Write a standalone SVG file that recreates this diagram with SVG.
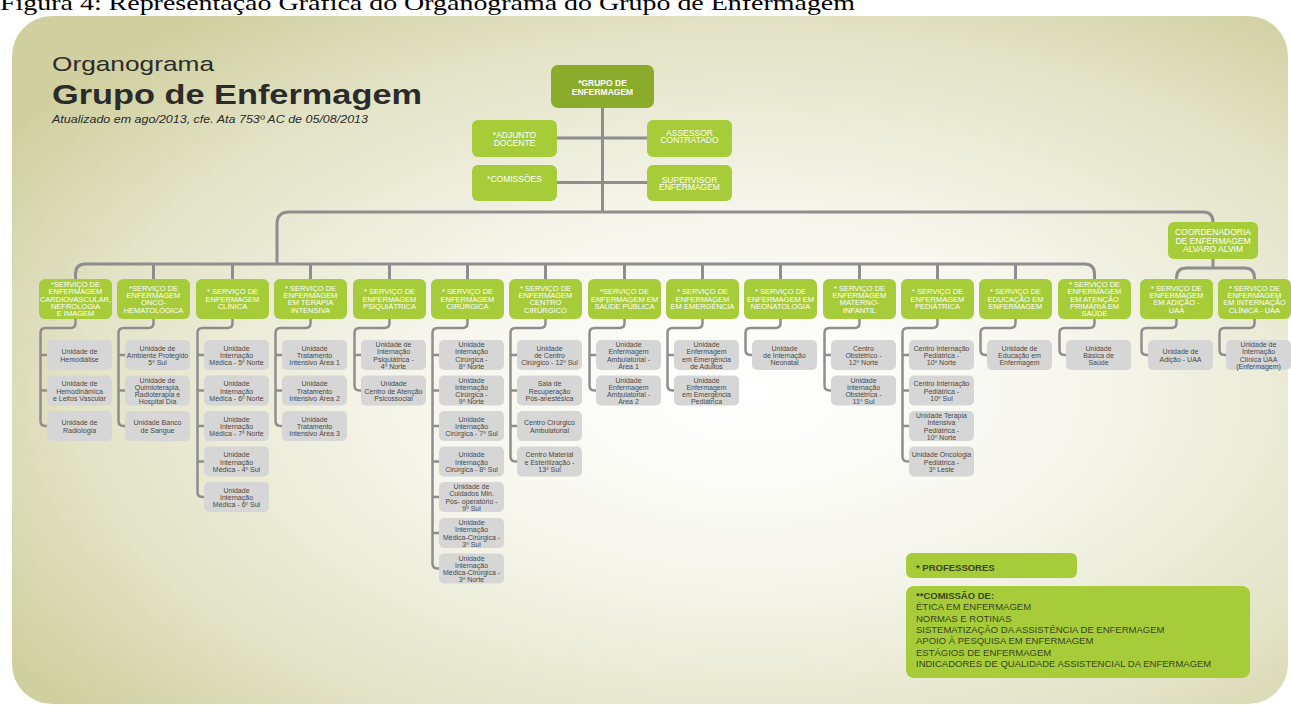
<svg xmlns="http://www.w3.org/2000/svg" width="1291" height="705" viewBox="0 0 1291 705">
<defs>
<radialGradient id="bg" cx="0.58" cy="0.55" r="0.7">
<stop offset="0" stop-color="#ffffff"/>
<stop offset="0.35" stop-color="#f7f7ef"/>
<stop offset="0.75" stop-color="#e3e3c7"/>
<stop offset="1" stop-color="#cfcf9f"/>
</radialGradient>
<style>
.hd{fill:#a6cc3a}
.top{fill:#8aab2b}
.ch{fill:#d6d6d6}
.tx{font-family:'Liberation Sans',Arial,sans-serif;fill:#ffffff;font-size:7.5px;text-anchor:middle}
.tb{font-family:'Liberation Sans',Arial,sans-serif;fill:#ffffff;font-size:8.5px;text-anchor:middle}
.ct{font-family:'Liberation Sans',Arial,sans-serif;fill:#4a4a4a;font-size:7px;text-anchor:middle}
.lg{font-family:'Liberation Sans',Arial,sans-serif;fill:#3a4520;font-size:9.5px}
.ln{stroke:#8e8e8e;stroke-width:3;fill:none}
.ln2{stroke:#8e8e8e;stroke-width:2.5;fill:none}
</style>
</defs>
<rect width="1291" height="705" fill="#ffffff"/>
<rect x="12" y="16" width="1276" height="688" rx="40" fill="url(#bg)"/>
<text x="0" y="10" font-family="'Liberation Serif',serif" font-size="22" fill="#000" textLength="855" lengthAdjust="spacingAndGlyphs">Figura 4: Representação Gráfica do Organograma do Grupo de Enfermagem</text>

<g id="title" font-family="'Liberation Sans',Arial,sans-serif" fill="#2b2b2b">
<text x="52" y="71" font-size="21" textLength="162" lengthAdjust="spacingAndGlyphs">Organograma</text>
<text x="52" y="104" font-size="28" font-weight="bold" textLength="370" lengthAdjust="spacingAndGlyphs">Grupo de Enfermagem</text>
<text x="52" y="123" font-size="10.5" font-style="italic" textLength="316" lengthAdjust="spacingAndGlyphs">Atualizado em ago/2013, cfe.  Ata 753º AC de 05/08/2013</text>
</g>

<g id="connectors">
<path class="ln" d="M602.5 108V212M557 138H647M557 182.5H647"/>
<path class="ln" d="M277 264V224Q277 212 289 212H1203Q1213 212 1213 222"/>
<path class="ln" d="M75.5 279V274Q75.5 264 85.5 264H1084.5Q1094.5 264 1094.5 274V279"/>
<path class="ln" d="M153.5 264V279M232.5 264V279M310.5 264V279M389.5 264V279M467.5 264V279M545.5 264V279M624.5 264V279M702.5 264V279M780.5 264V279M859.5 264V279M937.5 264V279M1015.5 264V279"/>
<path class="ln" d="M1213 259V268M1176.5 279V278Q1176.5 268 1186.5 268H1244.5Q1254.5 268 1254.5 278V279"/>
<path class="ln2" d="M75.5 319V323Q75.5 328 70.5 328H45.5Q40.5 328 40.5 333V421Q40.5 426 45.5 426H47M40.5 355H47M40.5 390.5H47"/>
<path class="ln2" d="M153.5 319V323Q153.5 328 148.5 328H123.5Q118.5 328 118.5 333V421Q118.5 426 123.5 426H125M118.5 355H125M118.5 390.5H125"/>
<path class="ln2" d="M232.5 319V323Q232.5 328 227.5 328H202.5Q197.5 328 197.5 333V492Q197.5 497 202.5 497H204M197.5 355H204M197.5 390.5H204M197.5 426H204M197.5 461.5H204"/>
<path class="ln2" d="M310.5 319V323Q310.5 328 305.5 328H280.5Q275.5 328 275.5 333V421Q275.5 426 280.5 426H282M275.5 355H282M275.5 390.5H282"/>
<path class="ln2" d="M389.5 319V323Q389.5 328 384.5 328H359.5Q354.5 328 354.5 333V385.5Q354.5 390.5 359.5 390.5H361M354.5 355H361"/>
<path class="ln2" d="M467.5 319V323Q467.5 328 462.5 328H437.5Q432.5 328 432.5 333V563.5Q432.5 568.5 437.5 568.5H439M432.5 355H439M432.5 390.5H439M432.5 426H439M432.5 461.5H439M432.5 497H439M432.5 533H439"/>
<path class="ln2" d="M545.5 319V323Q545.5 328 540.5 328H515.5Q510.5 328 510.5 333V456.5Q510.5 461.5 515.5 461.5H517M510.5 355H517M510.5 390.5H517M510.5 426H517"/>
<path class="ln2" d="M624.5 319V323Q624.5 328 619.5 328H594.5Q589.5 328 589.5 333V385.5Q589.5 390.5 594.5 390.5H596M589.5 355H596"/>
<path class="ln2" d="M702.5 319V323Q702.5 328 697.5 328H672.5Q667.5 328 667.5 333V385.5Q667.5 390.5 672.5 390.5H674M667.5 355H674"/>
<path class="ln2" d="M780.5 319V323Q780.5 328 775.5 328H750.5Q745.5 328 745.5 333V350Q745.5 355 750.5 355H752"/>
<path class="ln2" d="M859.5 319V323Q859.5 328 854.5 328H829.5Q824.5 328 824.5 333V385.5Q824.5 390.5 829.5 390.5H831M824.5 355H831"/>
<path class="ln2" d="M937.5 319V323Q937.5 328 932.5 328H907.5Q902.5 328 902.5 333V456.5Q902.5 461.5 907.5 461.5H909M902.5 355H909M902.5 390.5H909M902.5 426H909"/>
<path class="ln2" d="M1015.5 319V323Q1015.5 328 1010.5 328H985.5Q980.5 328 980.5 333V350Q980.5 355 985.5 355H987"/>
<path class="ln2" d="M1094.5 319V323Q1094.5 328 1089.5 328H1064.5Q1059.5 328 1059.5 333V350Q1059.5 355 1064.5 355H1066"/>
<path class="ln2" d="M1176.5 319V323Q1176.5 328 1171.5 328H1146.5Q1141.5 328 1141.5 333V350Q1141.5 355 1146.5 355H1148"/>
<path class="ln2" d="M1254.5 319V323Q1254.5 328 1249.5 328H1224.5Q1219.5 328 1219.5 333V350Q1219.5 355 1224.5 355H1226"/>
</g>

<g id="grupo"><rect class="top" x="551" y="65" width="103" height="43" rx="7"/><text class="tb" font-weight="bold" font-size="9.5" x="602.5" y="86"><tspan x="602.5">*GRUPO DE</tspan><tspan x="602.5" dy="8.5">ENFERMAGEM</tspan></text></g>
<g id="adjunto"><rect class="hd" x="472" y="120" width="85" height="37" rx="6"/><text class="tb" x="514.5" y="138"><tspan x="514.5">*ADJUNTO</tspan><tspan x="514.5" dy="7.5">DOCENTE</tspan></text></g>
<g id="assessor"><rect class="hd" x="647" y="120" width="85" height="37" rx="6"/><text class="tb" x="689.5" y="135.5"><tspan x="689.5">ASSESSOR</tspan><tspan x="689.5" dy="7.5">CONTRATADO</tspan></text></g>
<g id="comissoes"><rect class="hd" x="472" y="165" width="85" height="36" rx="6"/><text class="tb" x="514.5" y="182">*COMISSÕES</text></g>
<g id="supervisor"><rect class="hd" x="647" y="165" width="85" height="36" rx="6"/><text class="tb" x="689.5" y="182.5"><tspan x="689.5">SUPERVISOR</tspan><tspan x="689.5" dy="7.5">ENFERMAGEM</tspan></text></g>
<g id="coordenadoria"><rect class="hd" x="1168" y="222" width="90" height="37" rx="6"/><text class="tb" font-size="9" x="1213" y="235"><tspan x="1213">COORDENADORIA</tspan><tspan x="1213" dy="8.5">DE ENFERMAGEM</tspan><tspan x="1213" dy="8.5">ÁLVARO ALVIM</tspan></text></g>

<g id="h1"><rect class="hd" x="39" y="279" width="73" height="40" rx="6"/><text class="tx" y="287.1"><tspan x="75.5">*SERVIÇO DE</tspan><tspan x="75.5" dy="7.3">ENFERMAGEM</tspan><tspan x="75.5" dy="7.3">CARDIOVASCULAR,</tspan><tspan x="75.5" dy="7.3">NEFROLOGIA</tspan><tspan x="75.5" dy="7.3">E IMAGEM</tspan></text></g>
<g id="h2"><rect class="hd" x="117" y="279" width="73" height="40" rx="6"/><text class="tx" y="290.75"><tspan x="153.5">*SERVIÇO DE</tspan><tspan x="153.5" dy="7.3">ENFERMAGEM</tspan><tspan x="153.5" dy="7.3">ONCO-</tspan><tspan x="153.5" dy="7.3">HEMATOLÓGICA</tspan></text></g>
<g id="h3"><rect class="hd" x="196" y="279" width="73" height="40" rx="6"/><text class="tx" y="294.4"><tspan x="232.5">* SERVIÇO DE</tspan><tspan x="232.5" dy="7.3">ENFERMAGEM</tspan><tspan x="232.5" dy="7.3">CLÍNICA</tspan></text></g>
<g id="h4"><rect class="hd" x="274" y="279" width="73" height="40" rx="6"/><text class="tx" y="290.75"><tspan x="310.5">* SERVIÇO DE</tspan><tspan x="310.5" dy="7.3">ENFERMAGEM</tspan><tspan x="310.5" dy="7.3">EM TERAPIA</tspan><tspan x="310.5" dy="7.3">INTENSIVA</tspan></text></g>
<g id="h5"><rect class="hd" x="353" y="279" width="73" height="40" rx="6"/><text class="tx" y="294.4"><tspan x="389.5">* SERVIÇO DE</tspan><tspan x="389.5" dy="7.3">ENFERMAGEM</tspan><tspan x="389.5" dy="7.3">PSIQUIÁTRICA</tspan></text></g>
<g id="h6"><rect class="hd" x="431" y="279" width="73" height="40" rx="6"/><text class="tx" y="294.4"><tspan x="467.5">* SERVIÇO DE</tspan><tspan x="467.5" dy="7.3">ENFERMAGEM</tspan><tspan x="467.5" dy="7.3">CIRÚRGICA</tspan></text></g>
<g id="h7"><rect class="hd" x="509" y="279" width="73" height="40" rx="6"/><text class="tx" y="290.75"><tspan x="545.5">* SERVIÇO DE</tspan><tspan x="545.5" dy="7.3">ENFERMAGEM</tspan><tspan x="545.5" dy="7.3">CENTRO</tspan><tspan x="545.5" dy="7.3">CIRÚRGICO</tspan></text></g>
<g id="h8"><rect class="hd" x="588" y="279" width="73" height="40" rx="6"/><text class="tx" y="294.4"><tspan x="624.5">*SERVIÇO DE</tspan><tspan x="624.5" dy="7.3">ENFERMAGEM EM</tspan><tspan x="624.5" dy="7.3">SAÚDE PÚBLICA</tspan></text></g>
<g id="h9"><rect class="hd" x="666" y="279" width="73" height="40" rx="6"/><text class="tx" y="294.4"><tspan x="702.5">* SERVIÇO DE</tspan><tspan x="702.5" dy="7.3">ENFERMAGEM</tspan><tspan x="702.5" dy="7.3">EM EMERGÊNCIA</tspan></text></g>
<g id="h10"><rect class="hd" x="744" y="279" width="73" height="40" rx="6"/><text class="tx" y="294.4"><tspan x="780.5">* SERVIÇO DE</tspan><tspan x="780.5" dy="7.3">ENFERMAGEM EM</tspan><tspan x="780.5" dy="7.3">NEONATOLOGIA</tspan></text></g>
<g id="h11"><rect class="hd" x="823" y="279" width="73" height="40" rx="6"/><text class="tx" y="290.75"><tspan x="859.5">* SERVIÇO DE</tspan><tspan x="859.5" dy="7.3">ENFERMAGEM</tspan><tspan x="859.5" dy="7.3">MATERNO-</tspan><tspan x="859.5" dy="7.3">INFANTIL</tspan></text></g>
<g id="h12"><rect class="hd" x="901" y="279" width="73" height="40" rx="6"/><text class="tx" y="294.4"><tspan x="937.5">* SERVIÇO DE</tspan><tspan x="937.5" dy="7.3">ENFERMAGEM</tspan><tspan x="937.5" dy="7.3">PEDIÁTRICA</tspan></text></g>
<g id="h13"><rect class="hd" x="979" y="279" width="73" height="40" rx="6"/><text class="tx" y="294.4"><tspan x="1015.5">* SERVIÇO DE</tspan><tspan x="1015.5" dy="7.3">EDUCAÇÃO EM</tspan><tspan x="1015.5" dy="7.3">ENFERMAGEM</tspan></text></g>
<g id="h14"><rect class="hd" x="1058" y="279" width="73" height="40" rx="6"/><text class="tx" y="287.1"><tspan x="1094.5">* SERVIÇO DE</tspan><tspan x="1094.5" dy="7.3">ENFERMAGEM</tspan><tspan x="1094.5" dy="7.3">EM ATENÇÃO</tspan><tspan x="1094.5" dy="7.3">PRIMÁRIA EM</tspan><tspan x="1094.5" dy="7.3">SAÚDE</tspan></text></g>
<g id="h15"><rect class="hd" x="1140" y="279" width="73" height="40" rx="6"/><text class="tx" y="290.75"><tspan x="1176.5">* SERVIÇO DE</tspan><tspan x="1176.5" dy="7.3">ENFERMAGEM</tspan><tspan x="1176.5" dy="7.3">EM ADIÇÃO -</tspan><tspan x="1176.5" dy="7.3">UAA</tspan></text></g>
<g id="h16"><rect class="hd" x="1218" y="279" width="73" height="40" rx="6"/><text class="tx" y="290.75"><tspan x="1254.5">* SERVIÇO DE</tspan><tspan x="1254.5" dy="7.3">ENFERMAGEM</tspan><tspan x="1254.5" dy="7.3">EM INTERNAÇÃO</tspan><tspan x="1254.5" dy="7.3">CLÍNICA - UAA</tspan></text></g>

<g id="c1-1"><rect class="ch" x="47" y="340" width="65" height="30" rx="5"/><text class="ct" y="354.4"><tspan x="79.5">Unidade de</tspan><tspan x="79.5" dy="7.2">Hemodiálise</tspan></text></g>
<g id="c1-2"><rect class="ch" x="47" y="375.5" width="65" height="30" rx="5"/><text class="ct" y="386.3"><tspan x="79.5">Unidade de</tspan><tspan x="79.5" dy="7.2">Hemodinâmica</tspan><tspan x="79.5" dy="7.2">e Leitos Vascular</tspan></text></g>
<g id="c1-3"><rect class="ch" x="47" y="411" width="65" height="30" rx="5"/><text class="ct" y="425.4"><tspan x="79.5">Unidade de</tspan><tspan x="79.5" dy="7.2">Radiologia</tspan></text></g>

<g id="c2-1"><rect class="ch" x="125" y="340" width="65" height="30" rx="5"/><text class="ct" y="350.8"><tspan x="157.5">Unidade de</tspan><tspan x="157.5" dy="7.2">Ambiente Protegido</tspan><tspan x="157.5" dy="7.2">5º Sul</tspan></text></g>
<g id="c2-2"><rect class="ch" x="125" y="375.5" width="65" height="30" rx="5"/><text class="ct" y="382.7"><tspan x="157.5">Unidade de</tspan><tspan x="157.5" dy="7.2">Quimioterapia,</tspan><tspan x="157.5" dy="7.2">Radioterapia e</tspan><tspan x="157.5" dy="7.2">Hospital Dia</tspan></text></g>
<g id="c2-3"><rect class="ch" x="125" y="411" width="65" height="30" rx="5"/><text class="ct" y="425.4"><tspan x="157.5">Unidade Banco</tspan><tspan x="157.5" dy="7.2">de Sangue</tspan></text></g>

<g id="c3-1"><rect class="ch" x="204" y="340" width="65" height="30" rx="5"/><text class="ct" y="350.8"><tspan x="236.5">Unidade</tspan><tspan x="236.5" dy="7.2">Internação</tspan><tspan x="236.5" dy="7.2">Médica - 5º Norte</tspan></text></g>
<g id="c3-2"><rect class="ch" x="204" y="375.5" width="65" height="30" rx="5"/><text class="ct" y="386.3"><tspan x="236.5">Unidade</tspan><tspan x="236.5" dy="7.2">Internação</tspan><tspan x="236.5" dy="7.2">Médica - 6º Norte</tspan></text></g>
<g id="c3-3"><rect class="ch" x="204" y="411" width="65" height="30" rx="5"/><text class="ct" y="421.8"><tspan x="236.5">Unidade</tspan><tspan x="236.5" dy="7.2">Internação</tspan><tspan x="236.5" dy="7.2">Médica - 7º Norte</tspan></text></g>
<g id="c3-4"><rect class="ch" x="204" y="446.5" width="65" height="30" rx="5"/><text class="ct" y="457.3"><tspan x="236.5">Unidade</tspan><tspan x="236.5" dy="7.2">Internação</tspan><tspan x="236.5" dy="7.2">Médica - 4º Sul</tspan></text></g>
<g id="c3-5"><rect class="ch" x="204" y="482" width="65" height="30" rx="5"/><text class="ct" y="492.8"><tspan x="236.5">Unidade</tspan><tspan x="236.5" dy="7.2">Internação</tspan><tspan x="236.5" dy="7.2">Médica - 6º Sul</tspan></text></g>

<g id="c4-1"><rect class="ch" x="282" y="340" width="65" height="30" rx="5"/><text class="ct" y="350.8"><tspan x="314.5">Unidade</tspan><tspan x="314.5" dy="7.2">Tratamento</tspan><tspan x="314.5" dy="7.2">Intensivo Área 1</tspan></text></g>
<g id="c4-2"><rect class="ch" x="282" y="375.5" width="65" height="30" rx="5"/><text class="ct" y="386.3"><tspan x="314.5">Unidade</tspan><tspan x="314.5" dy="7.2">Tratamento</tspan><tspan x="314.5" dy="7.2">Intensivo Área 2</tspan></text></g>
<g id="c4-3"><rect class="ch" x="282" y="411" width="65" height="30" rx="5"/><text class="ct" y="421.8"><tspan x="314.5">Unidade</tspan><tspan x="314.5" dy="7.2">Tratamento</tspan><tspan x="314.5" dy="7.2">Intensivo Área 3</tspan></text></g>

<g id="c5-1"><rect class="ch" x="361" y="340" width="65" height="30" rx="5"/><text class="ct" y="347.2"><tspan x="393.5">Unidade de</tspan><tspan x="393.5" dy="7.2">Internação</tspan><tspan x="393.5" dy="7.2">Psiquiátrica -</tspan><tspan x="393.5" dy="7.2">4º Norte</tspan></text></g>
<g id="c5-2"><rect class="ch" x="361" y="375.5" width="65" height="30" rx="5"/><text class="ct" y="386.3"><tspan x="393.5">Unidade</tspan><tspan x="393.5" dy="7.2">Centro de Atenção</tspan><tspan x="393.5" dy="7.2">Psicossocial</tspan></text></g>

<g id="c6-1"><rect class="ch" x="439" y="340" width="65" height="30" rx="5"/><text class="ct" y="347.2"><tspan x="471.5">Unidade</tspan><tspan x="471.5" dy="7.2">Internação</tspan><tspan x="471.5" dy="7.2">Cirúrgica -</tspan><tspan x="471.5" dy="7.2">8º Norte</tspan></text></g>
<g id="c6-2"><rect class="ch" x="439" y="375.5" width="65" height="30" rx="5"/><text class="ct" y="382.7"><tspan x="471.5">Unidade</tspan><tspan x="471.5" dy="7.2">Internação</tspan><tspan x="471.5" dy="7.2">Cirúrgica -</tspan><tspan x="471.5" dy="7.2">9º Norte</tspan></text></g>
<g id="c6-3"><rect class="ch" x="439" y="411" width="65" height="30" rx="5"/><text class="ct" y="421.8"><tspan x="471.5">Unidade</tspan><tspan x="471.5" dy="7.2">Internação</tspan><tspan x="471.5" dy="7.2">Cirúrgica - 7º Sul</tspan></text></g>
<g id="c6-4"><rect class="ch" x="439" y="446.5" width="65" height="30" rx="5"/><text class="ct" y="457.3"><tspan x="471.5">Unidade</tspan><tspan x="471.5" dy="7.2">Internação</tspan><tspan x="471.5" dy="7.2">Cirúrgica - 8º Sul</tspan></text></g>
<g id="c6-5"><rect class="ch" x="439" y="482" width="65" height="30" rx="5"/><text class="ct" y="489.2"><tspan x="471.5">Unidade de</tspan><tspan x="471.5" dy="7.2">Cuidados Min.</tspan><tspan x="471.5" dy="7.2">Pós- operatório -</tspan><tspan x="471.5" dy="7.2">9º Sul</tspan></text></g>
<g id="c6-6"><rect class="ch" x="439" y="518" width="65" height="30" rx="5"/><text class="ct" y="525.2"><tspan x="471.5">Unidade</tspan><tspan x="471.5" dy="7.2">Internação</tspan><tspan x="471.5" dy="7.2">Médica-Cirúrgica -</tspan><tspan x="471.5" dy="7.2">3º Sul</tspan></text></g>
<g id="c6-7"><rect class="ch" x="439" y="553.5" width="65" height="30" rx="5"/><text class="ct" y="560.7"><tspan x="471.5">Unidade</tspan><tspan x="471.5" dy="7.2">Internação</tspan><tspan x="471.5" dy="7.2">Médica-Cirúrgica -</tspan><tspan x="471.5" dy="7.2">3º Norte</tspan></text></g>

<g id="c7-1"><rect class="ch" x="517" y="340" width="65" height="30" rx="5"/><text class="ct" y="350.8"><tspan x="549.5">Unidade</tspan><tspan x="549.5" dy="7.2">de Centro</tspan><tspan x="549.5" dy="7.2">Cirúrgico - 12º Sul</tspan></text></g>
<g id="c7-2"><rect class="ch" x="517" y="375.5" width="65" height="30" rx="5"/><text class="ct" y="386.3"><tspan x="549.5">Sala de</tspan><tspan x="549.5" dy="7.2">Recuperação</tspan><tspan x="549.5" dy="7.2">Pós-anestésica</tspan></text></g>
<g id="c7-3"><rect class="ch" x="517" y="411" width="65" height="30" rx="5"/><text class="ct" y="425.4"><tspan x="549.5">Centro Cirúrgico</tspan><tspan x="549.5" dy="7.2">Ambulatorial</tspan></text></g>
<g id="c7-4"><rect class="ch" x="517" y="446.5" width="65" height="30" rx="5"/><text class="ct" y="457.3"><tspan x="549.5">Centro Material</tspan><tspan x="549.5" dy="7.2">e Esterilização -</tspan><tspan x="549.5" dy="7.2">13º Sul</tspan></text></g>

<g id="c8-1"><rect class="ch" x="596" y="340" width="65" height="30" rx="5"/><text class="ct" y="347.2"><tspan x="628.5">Unidade</tspan><tspan x="628.5" dy="7.2">Enfermagem</tspan><tspan x="628.5" dy="7.2">Ambulatorial -</tspan><tspan x="628.5" dy="7.2">Área 1</tspan></text></g>
<g id="c8-2"><rect class="ch" x="596" y="375.5" width="65" height="30" rx="5"/><text class="ct" y="382.7"><tspan x="628.5">Unidade</tspan><tspan x="628.5" dy="7.2">Enfermagem</tspan><tspan x="628.5" dy="7.2">Ambulatorial -</tspan><tspan x="628.5" dy="7.2">Área 2</tspan></text></g>

<g id="c9-1"><rect class="ch" x="674" y="340" width="65" height="30" rx="5"/><text class="ct" y="347.2"><tspan x="706.5">Unidade</tspan><tspan x="706.5" dy="7.2">Enfermagem</tspan><tspan x="706.5" dy="7.2">em Emergência</tspan><tspan x="706.5" dy="7.2">de Adultos</tspan></text></g>
<g id="c9-2"><rect class="ch" x="674" y="375.5" width="65" height="30" rx="5"/><text class="ct" y="382.7"><tspan x="706.5">Unidade</tspan><tspan x="706.5" dy="7.2">Enfermagem</tspan><tspan x="706.5" dy="7.2">em Emergência</tspan><tspan x="706.5" dy="7.2">Pediátrica</tspan></text></g>

<g id="c10-1"><rect class="ch" x="752" y="340" width="65" height="30" rx="5"/><text class="ct" y="350.8"><tspan x="784.5">Unidade</tspan><tspan x="784.5" dy="7.2">de Internação</tspan><tspan x="784.5" dy="7.2">Neonatal</tspan></text></g>

<g id="c11-1"><rect class="ch" x="831" y="340" width="65" height="30" rx="5"/><text class="ct" y="350.8"><tspan x="863.5">Centro</tspan><tspan x="863.5" dy="7.2">Obstétrico -</tspan><tspan x="863.5" dy="7.2">12º Norte</tspan></text></g>
<g id="c11-2"><rect class="ch" x="831" y="375.5" width="65" height="30" rx="5"/><text class="ct" y="382.7"><tspan x="863.5">Unidade</tspan><tspan x="863.5" dy="7.2">Internação</tspan><tspan x="863.5" dy="7.2">Obstétrica -</tspan><tspan x="863.5" dy="7.2">11º Sul</tspan></text></g>

<g id="c12-1"><rect class="ch" x="909" y="340" width="65" height="30" rx="5"/><text class="ct" y="350.8"><tspan x="941.5">Centro Internação</tspan><tspan x="941.5" dy="7.2">Pediátrica -</tspan><tspan x="941.5" dy="7.2">10º Norte</tspan></text></g>
<g id="c12-2"><rect class="ch" x="909" y="375.5" width="65" height="30" rx="5"/><text class="ct" y="386.3"><tspan x="941.5">Centro Internação</tspan><tspan x="941.5" dy="7.2">Pediátrica -</tspan><tspan x="941.5" dy="7.2">10º Sul</tspan></text></g>
<g id="c12-3"><rect class="ch" x="909" y="411" width="65" height="30" rx="5"/><text class="ct" y="418.2"><tspan x="941.5">Unidade Terapia</tspan><tspan x="941.5" dy="7.2">Intensiva</tspan><tspan x="941.5" dy="7.2">Pediátrica -</tspan><tspan x="941.5" dy="7.2">10º Norte</tspan></text></g>
<g id="c12-4"><rect class="ch" x="909" y="446.5" width="65" height="30" rx="5"/><text class="ct" y="457.3"><tspan x="941.5">Unidade Oncologia</tspan><tspan x="941.5" dy="7.2">Pediátrica -</tspan><tspan x="941.5" dy="7.2">3º Leste</tspan></text></g>

<g id="c13-1"><rect class="ch" x="987" y="340" width="65" height="30" rx="5"/><text class="ct" y="350.8"><tspan x="1019.5">Unidade de</tspan><tspan x="1019.5" dy="7.2">Educação em</tspan><tspan x="1019.5" dy="7.2">Enfermagem</tspan></text></g>
<g id="c14-1"><rect class="ch" x="1066" y="340" width="65" height="30" rx="5"/><text class="ct" y="350.8"><tspan x="1098.5">Unidade</tspan><tspan x="1098.5" dy="7.2">Básica de</tspan><tspan x="1098.5" dy="7.2">Saúde</tspan></text></g>
<g id="c15-1"><rect class="ch" x="1148" y="340" width="65" height="30" rx="5"/><text class="ct" y="354.4"><tspan x="1180.5">Unidade de</tspan><tspan x="1180.5" dy="7.2">Adição - UAA</tspan></text></g>
<g id="c16-1"><rect class="ch" x="1226" y="340" width="65" height="30" rx="5"/><text class="ct" y="347.2"><tspan x="1258.5">Unidade de</tspan><tspan x="1258.5" dy="7.2">Internação</tspan><tspan x="1258.5" dy="7.2">Clínica UAA</tspan><tspan x="1258.5" dy="7.2">(Enfermagem)</tspan></text></g>

<g id="legend-professores"><rect class="hd" x="906" y="553" width="171" height="25" rx="6"/><text class="lg" font-weight="bold" x="916" y="571">* PROFESSORES</text></g>
<g id="legend-comissao"><rect class="hd" x="906" y="586" width="344" height="92" rx="8"/>
<text class="lg" x="916" y="599"><tspan x="916" font-weight="bold">**COMISSÃO DE:</tspan><tspan x="916" dy="11.3">ÉTICA EM ENFERMAGEM</tspan><tspan x="916" dy="11.3">NORMAS E ROTINAS</tspan><tspan x="916" dy="11.3">SISTEMATIZAÇÃO DA ASSISTÊNCIA DE ENFERMAGEM</tspan><tspan x="916" dy="11.3">APOIO À PESQUISA EM ENFERMAGEM</tspan><tspan x="916" dy="11.3">ESTÁGIOS DE ENFERMAGEM</tspan><tspan x="916" dy="11.3">INDICADORES DE QUALIDADE ASSISTENCIAL DA ENFERMAGEM</tspan></text></g>
</svg>
